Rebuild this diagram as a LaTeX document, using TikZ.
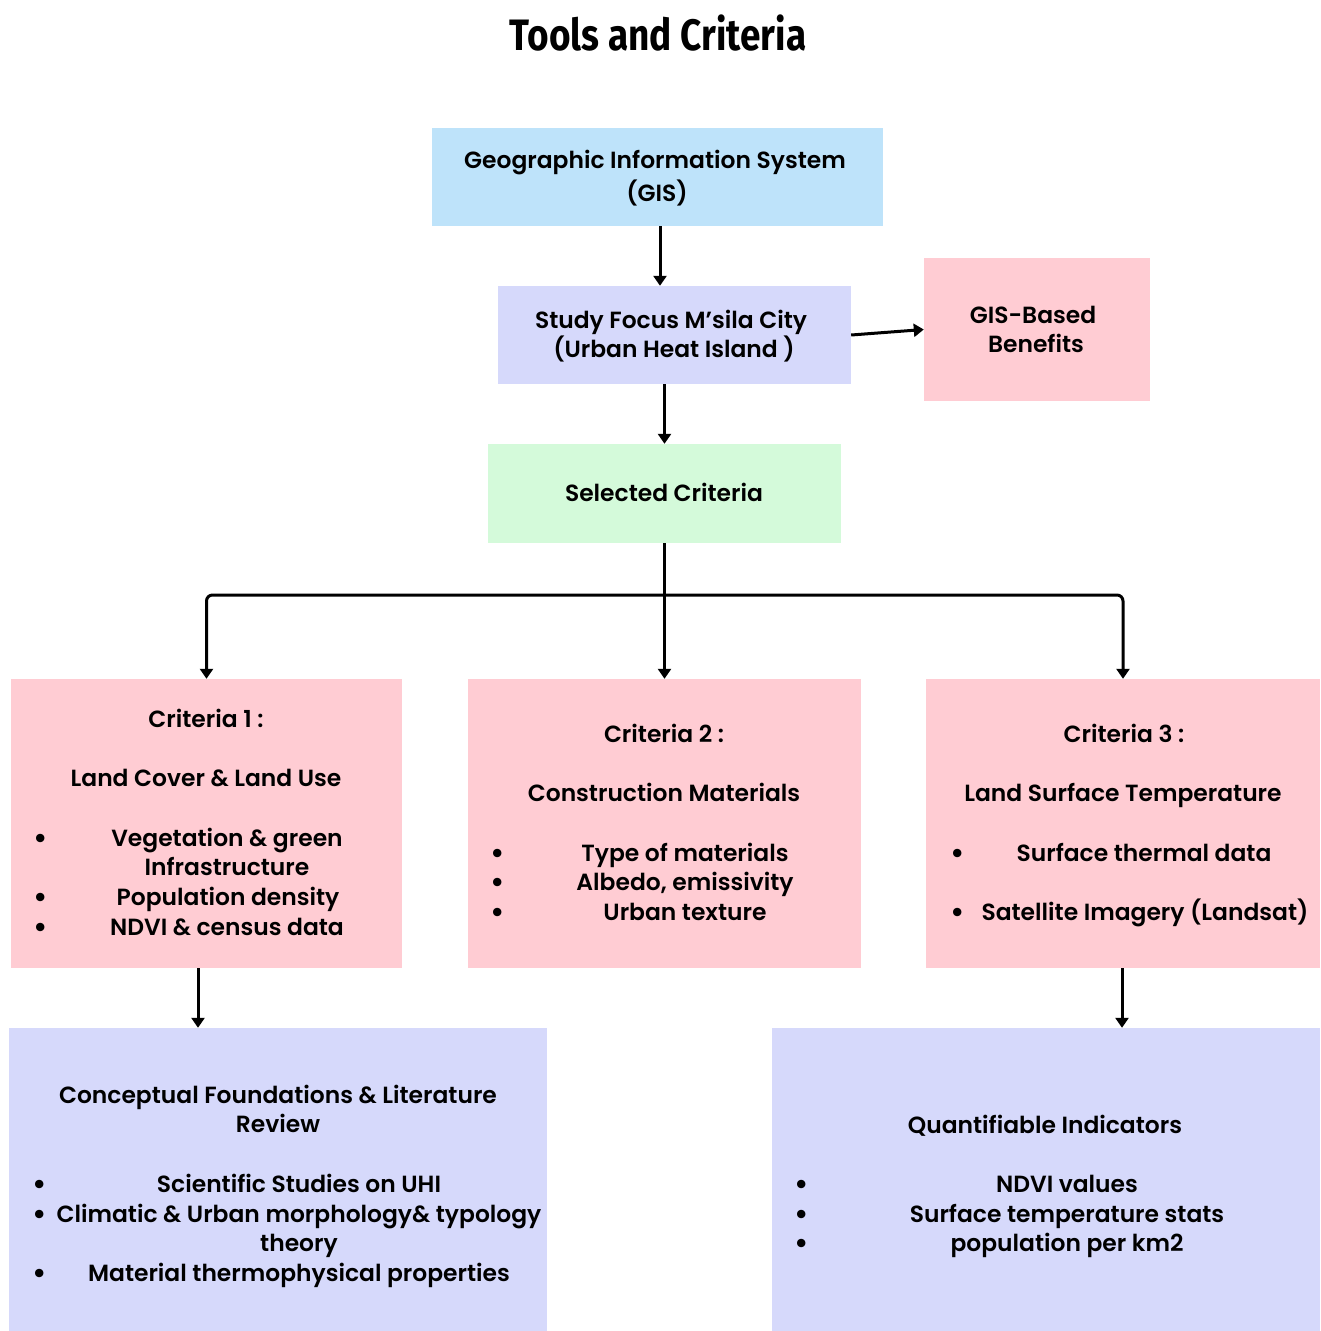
\documentclass[tikz,border=0pt]{standalone}
\usepackage{fontspec}
\setmainfont{Poppins SemiBold}
\newfontfamily\titlefont{Fira Sans}
\usetikzlibrary{arrows.meta}
\definecolor{gisblue}{HTML}{BEE3FA}
\definecolor{lav}{HTML}{D6D9FB}
\definecolor{pinkbox}{HTML}{FFCCD3}
\definecolor{greenbox}{HTML}{D4FADA}
\begin{document}
\begin{tikzpicture}[x=1pt,y=-1pt,
  box/.style={draw=none,inner sep=0pt,minimum width=#1},
  txt/.style={inner sep=0pt,anchor=base,font=\fontsize{23.4}{26}\selectfont},
  bul/.style={inner sep=0pt,anchor=base,font=\fontsize{30}{30}\selectfont},
  arr/.style={line width=3pt,-{Triangle[width=13pt,length=10pt]}}]
\useasboundingbox (0,0) rectangle (1321,1331);
% title
\node[inner sep=0pt] (title) at (658,33) {\titlefont\bfseries\fontsize{44}{50}\selectfont\scalebox{0.84}[1]{Tools and Criteria}};
% boxes
\node[box=451pt,minimum height=98pt,fill=gisblue] (gis) at (657.5,177) {};
\node[box=353pt,minimum height=98pt,fill=lav] (study) at (674.5,335) {};
\node[box=226pt,minimum height=143pt,fill=pinkbox] (ben) at (1037,329.5) {};
\node[box=353pt,minimum height=99pt,fill=greenbox] (sel) at (664.5,493.5) {};
\node[box=391pt,minimum height=289pt,fill=pinkbox] (c1) at (206.5,823.5) {};
\node[box=393pt,minimum height=289pt,fill=pinkbox] (c2) at (664.5,823.5) {};
\node[box=394pt,minimum height=289pt,fill=pinkbox] (c3) at (1123,823.5) {};
\node[box=538pt,minimum height=303pt,fill=lav] (con) at (278,1179.5) {};
\node[box=548pt,minimum height=303pt,fill=lav] (qua) at (1046,1179.5) {};
% texts
\node[txt] (g1) at (655,168) {Geographic Information System};
\node[txt] (g2) at (657,201) {(GIS)};
\node[txt] (s1) at (671,328) {Study Focus M’sila City};
\node[txt] (s2) at (674,357) {(Urban Heat Island )};
\node[txt] (b1) at (1033,323) {GIS-Based};
\node[txt] (b2) at (1036,352) {Benefits};
\node[txt] (sc) at (664,501) {Selected Criteria};
% criteria 1
\node[txt] (c1a) at (206,727) {Criteria 1 :};
\node[txt] (c1b) at (206,786) {Land Cover \& Land Use};
\node[txt] (c1c) at (227,846) {Vegetation \& green};
\node[txt] (c1d) at (227,875) {Infrastructure};
\node[txt] (c1e) at (228,905) {Population density};
\node[txt] (c1f) at (227,935) {NDVI \& census data};
\node[bul] at (41,848) {•};
\node[bul] at (41,907) {•};
\node[bul] at (41,937) {•};
% criteria 2
\node[txt] (c2a) at (664,742) {Criteria 2 :};
\node[txt] (c2b) at (664,801) {Construction Materials};
\node[txt] (c2c) at (685,861) {Type of materials};
\node[txt] (c2d) at (685,890) {Albedo, emissivity};
\node[txt] (c2e) at (685,920) {Urban texture};
\node[bul] at (498,863) {•};
\node[bul] at (498,892) {•};
\node[bul] at (498,922) {•};
% criteria 3
\node[txt] (c3a) at (1124,742) {Criteria 3 :};
\node[txt] (c3b) at (1123,801) {Land Surface Temperature};
\node[txt] (c3c) at (1144,861) {Surface thermal data};
\node[txt] (c3d) at (1145,920) {Satellite Imagery (Landsat)};
\node[bul] at (958,863) {•};
\node[bul] at (958,922) {•};
% conceptual
\node[txt] (k1) at (278,1103) {Conceptual Foundations \& Literature};
\node[txt] (k2) at (278,1132) {Review};
\node[txt] (k3) at (299,1192) {Scientific Studies on UHI};
\node[txt] (k4) at (299,1222) {Climatic \& Urban morphology\& typology};
\node[txt] (k5) at (299,1251) {theory};
\node[txt] (k6) at (299,1281) {Material thermophysical properties};
\node[bul] at (40,1194) {•};
\node[bul] at (40,1224) {•};
\node[bul] at (40,1283) {•};
% quantifiable
\node[txt] (q1) at (1045,1133) {Quantifiable Indicators};
\node[txt] (q2) at (1067,1192) {NDVI values};
\node[txt] (q3) at (1067,1222) {Surface temperature stats};
\node[txt] (q4) at (1067,1251) {population per km2};
\node[bul] at (802,1194) {•};
\node[bul] at (802,1224) {•};
\node[bul] at (802,1253) {•};
% connectors
\draw[arr] ([xshift=2.5pt]gis.south) -- ([xshift=2.5pt]gis.south |- study.north);
\draw[arr] (study.east) -- (ben.west);
\draw[arr] (sel.north |- study.south) -- (sel.north);
\coordinate (split) at (sel.south |- 0,595);
\draw[arr] (sel.south) -- (sel.south |- c2.north);
\draw[arr,rounded corners=6pt] (split) -- (c1.north |- split) -- (c1.north);
\draw[arr,rounded corners=6pt] (split) -- (c3.north |- split) -- (c3.north);
\draw[arr] ([xshift=-8.5pt]c1.south) -- ([xshift=-8.5pt]c1.south |- con.north);
\draw[arr] ([xshift=-1pt]c3.south) -- ([xshift=-1pt]c3.south |- qua.north);
\end{tikzpicture}
\end{document}
